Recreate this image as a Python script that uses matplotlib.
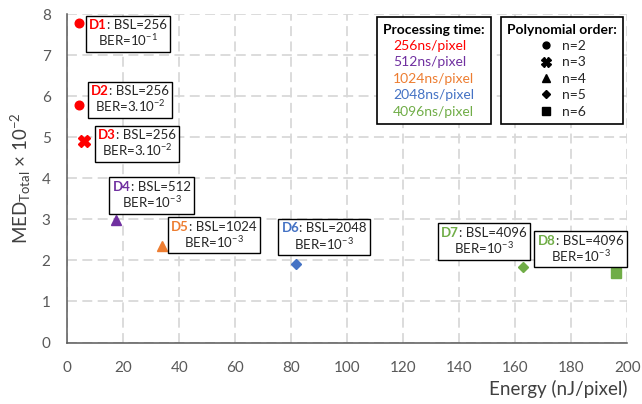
import matplotlib
matplotlib.use("Agg")
import matplotlib.pyplot as plt
from matplotlib.lines import Line2D
from matplotlib.offsetbox import TextArea, HPacker, VPacker, AnnotationBbox

# ── DATA ────────────────────────────────────────────────────────────────────
designs = ["D1", "D2", "D3", "D4", "D5", "D6", "D7", "D8"]
energy  = [4.3, 4.3, 6.0, 17.4, 33.9, 81.6, 162.8, 196.0]     # nJ/pixel
med     = [7.77, 5.79, 4.91, 2.99, 2.35, 1.91, 1.83, 1.69]    # x 1e-2
bsl     = [256, 256, 256, 512, 1024, 2048, 4096, 4096]
ber     = ["10$^{-1}$", "3.10$^{-2}$", "3.10$^{-2}$", "10$^{-3}$",
           "10$^{-3}$", "10$^{-3}$", "10$^{-3}$", "10$^{-3}$"]
order   = [2, 2, 3, 4, 4, 5, 5, 6]

times   = [256, 512, 1024, 2048, 4096]
orders  = [2, 3, 4, 5, 6]

# ── STYLE ───────────────────────────────────────────────────────────────────
plt.rcParams["font.family"] = ["Lato", "DejaVu Sans"]
plt.rcParams["mathtext.fontset"] = "custom"
plt.rcParams["mathtext.rm"] = "Lato"
plt.rcParams["mathtext.bf"] = "Lato:bold"
plt.rcParams["mathtext.default"] = "regular"

COL = {256: "#FF0000", 512: "#7030A0", 1024: "#ED7D31",
       2048: "#4472C4", 4096: "#70AD47"}
MK  = {2: "o", 3: "X", 4: "^", 5: "D", 6: "s"}
MS  = {2: 6.2, 3: 8.5, 4: 7.5, 5: 5.5, 6: 6.5}
TXT = "#262626"

# label box centres (data coords)
label_pos = [(21.7, 7.52), (22.4, 5.91), (24.9, 4.84), (30.1, 3.58),
             (52.3, 2.61), (91.7, 2.57), (148.8, 2.46), (183.3, 2.27)]

fig = plt.figure(figsize=(6.42, 4.04), dpi=100, facecolor="white")
ax = fig.add_axes([67.3 / 642, 1 - 342.5 / 404, 560 / 642, 328.5 / 404])

ax.set_xlim(0, 200)
ax.set_ylim(0, 8)
ax.set_xticks(range(0, 201, 20))
ax.set_yticks(range(0, 9))
ax.grid(True, color="#D9D9D9", lw=1.3, ls=(0, (5.5, 3)))
ax.set_axisbelow(True)
for s in ("top", "right"):
    ax.spines[s].set_visible(False)
for s in ("left", "bottom"):
    ax.spines[s].set_color("#595959")
    ax.spines[s].set_linewidth(1.1)
ax.tick_params(length=0, labelsize=11, labelcolor="#595959")
ax.tick_params(axis="x", pad=13)
ax.tick_params(axis="y", pad=12)

for e, m, b, n in zip(energy, med, bsl, order):
    ax.plot(e, m, ls="none", marker=MK[n], ms=MS[n], color=COL[b],
            mec=COL[b], clip_on=False, zorder=5)

FS = 9.5
for d, b, r, pos in zip(designs, bsl, ber, label_pos):
    t1 = TextArea(d, textprops=dict(color=COL[b], fontweight="bold", fontsize=FS))
    t2 = TextArea(f": BSL={b}", textprops=dict(color=TXT, fontsize=FS))
    row1 = HPacker(children=[t1, t2], align="baseline", pad=0, sep=0)
    row2 = TextArea(f"BER={r}", textprops=dict(color=TXT, fontsize=FS))
    box = VPacker(children=[row1, row2], align="center", pad=0, sep=1)
    ab = AnnotationBbox(box, pos, xycoords="data", frameon=True, pad=0.25,
                        box_alignment=(0.5, 0.5),
                        bboxprops=dict(edgecolor="black", linewidth=1.0))
    ab.set_zorder(6)
    ax.add_artist(ab)

ax.set_xlabel("Energy (nJ/pixel)", fontsize=13.5, color="#404040",
              loc="right", labelpad=4)
ax.set_ylabel("MED$_{\\mathrm{Total}}$ × 10$^{-2}$", fontsize=13.5,
              color="#404040", labelpad=6)

# ── LEGENDS ─────────────────────────────────────────────────────────────────
LFS = 10
h1 = [Line2D([], [], ls="none") for _ in times]
leg1 = ax.legend(h1, [f"{t}ns/pixel" for t in times], loc="upper left",
                 bbox_to_anchor=(0.5525, 0.99), handlelength=0,
                 handletextpad=0, labelcolor=[COL[t] for t in times],
                 title="Processing time:",
                 title_fontproperties={"weight": "bold", "size": LFS},
                 fontsize=LFS, fancybox=False, edgecolor="black", framealpha=1,
                 borderpad=0.45, labelspacing=0.32, borderaxespad=0)
leg1.get_frame().set_linewidth(1.2)
ax.add_artist(leg1)

h2 = [Line2D([], [], ls="none", marker=MK[n], ms=MS[n] * 0.8, color="black")
      for n in orders]
leg2 = ax.legend(h2, [f"n={n}" for n in orders], loc="upper left",
                 bbox_to_anchor=(0.774, 0.99), handlelength=1.2,
                 handletextpad=0.6, title="Polynomial order:",
                 title_fontproperties={"weight": "bold", "size": LFS},
                 fontsize=LFS, fancybox=False, edgecolor="black", framealpha=1,
                 borderpad=0.45, labelspacing=0.32, labelcolor=TXT,
                 borderaxespad=0)
leg2.get_frame().set_linewidth(1.2)

fig.savefig("out.png", dpi=100, facecolor="white")
